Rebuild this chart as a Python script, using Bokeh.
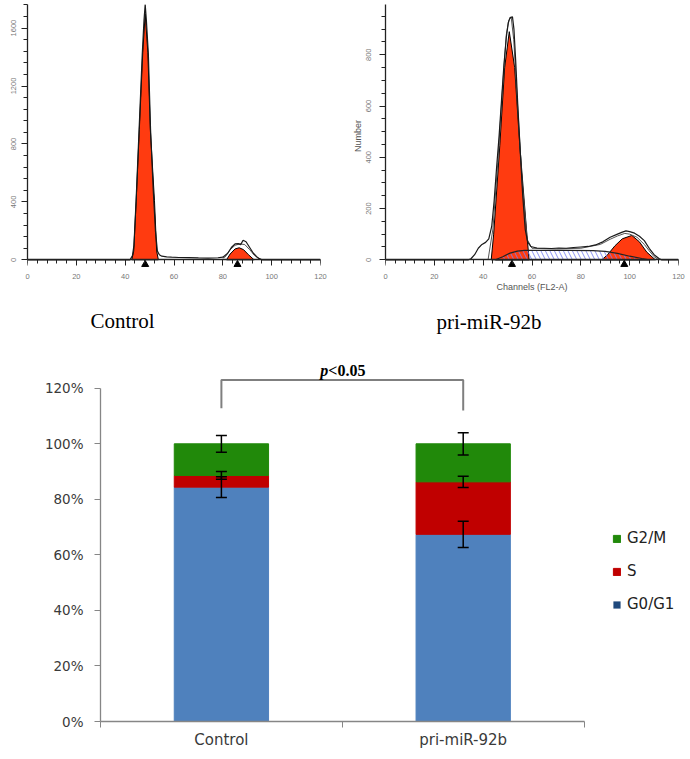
from bokeh.plotting import figure
from bokeh.layouts import column, row
from bokeh.models import (Range1d, SingleIntervalTicker, FixedTicker, NumeralTickFormatter,
                          Whisker, TeeHead, ColumnDataSource, Legend, LegendItem, Title,
                          LinearAxis, CustomJSTickFormatter)
from bokeh.core.properties import value
from bokeh.embed import file_html
from bokeh.resources import INLINE

# ------------------------------------------------------------------ data
# Control histogram (channel, number)
ctrl_raw_ch = [0, 42, 43, 43.6, 44.5, 45.7, 47.0, 47.7, 48.2, 48.7, 49.5, 50.4, 51.5, 52.4, 53.2,
               54, 55, 57, 59, 62, 66, 70, 74, 78, 80, 82, 83.5, 85, 86.3, 87.3, 88.3, 89.5,
               91, 92.5, 94, 95, 96, 120]
ctrl_raw_n = [0, 0, 30, 100, 420, 900, 1420, 1650, 1765, 1650, 1420, 900, 480, 200, 60,
              35, 25, 20, 18, 16, 15, 13, 12, 14, 18, 45, 85, 110, 112, 105, 135, 125,
              85, 45, 20, 8, 0, 0]
ctrl_fit_ch = [80, 81, 83, 85, 87, 89, 91, 93, 95, 96]
ctrl_fit_n = [12, 20, 70, 100, 110, 105, 70, 30, 5, 0]
ctrl_g1_ch = [42.7, 43.5, 44.5, 45.8, 47.2, 48.2, 49.3, 50.3, 52.0, 52.9, 53.6]
ctrl_g1_n = [0, 60, 400, 900, 1430, 1700, 1430, 900, 410, 60, 0]
ctrl_g2_ch = [81.5, 83, 85, 86.7, 88.5, 90.5, 92.8]
ctrl_g2_n = [0, 40, 75, 83, 70, 35, 0]
ctrl_modes = [48.2, 86.0]

# pri-miR-92b histogram
pri_raw_ch = [0, 34, 35, 36.5, 38, 39.5, 41, 42.3, 43.5, 44.5, 45.5, 46.5, 47.5, 48.5, 49.5,
              50.3, 51, 52, 52.6, 53.3, 54.2, 55.2, 56.2, 57.2, 58.2, 59.5, 62, 65, 68, 71,
              74, 77, 80, 83, 86, 89, 92, 95, 97, 98.5, 100, 102, 104, 106, 108, 110, 112,
              113, 120]
pri_raw_n = [0, 0, 4, 20, 45, 60, 68, 82, 130, 230, 360, 480, 620, 760, 870,
             925, 945, 948, 900, 780, 600, 420, 250, 120, 70, 52, 46, 45, 44, 46,
             45, 48, 50, 52, 58, 70, 88, 100, 108, 113, 110, 104, 92, 75, 45, 20, 5,
             0, 0]
pri_fit_ch = [42, 44, 46, 48, 49.5, 50.5, 51.5, 52.5, 54, 56, 58, 60, 70, 80, 88, 92, 95,
              98, 100, 103, 106, 108, 110, 112]
pri_fit_n = [0, 120, 380, 680, 880, 935, 945, 860, 620, 300, 80, 45, 42, 45, 60, 80, 93,
             103, 100, 88, 60, 35, 12, 0]
pri_g1_ch = [43.3, 44.3, 46.8, 48.8, 50.7, 52.9, 55.0, 57.9, 58.8]
pri_g1_n = [0, 100, 445, 750, 890, 750, 445, 100, 0]
pri_g2_ch = [88.6, 91, 94, 97, 100.9, 104, 107, 110.5]
pri_g2_n = [0, 20, 55, 82, 95, 70, 30, 0]
pri_s_ch = [45, 48, 51, 54, 57, 65, 75, 85, 90, 95, 100, 105, 108]
pri_s_n = [0, 12, 26, 34, 37, 37, 37, 36, 33, 25, 14, 5, 0]
pri_modes = [51.8, 97.8]

# Cell-cycle distribution (fractions)
categories = ["Control", "pri-miR-92b"]
phases = ["G0/G1", "S", "G2/M"]
g0g1 = [0.844, 0.674]
s_phase = [0.042, 0.189]
g2m = [0.114, 0.137]
g0g1_err = [0.037, 0.047]
s_err = [0.014, 0.020]
g2m_err = [0.030, 0.040]
y_ticks = [0, 0.2, 0.4, 0.6, 0.8, 1.0, 1.2]
p_label = "<0.05"

# ------------------------------------------------------------------ styles
RED = "#FF3B10"
C_G1 = "#4F81BD"
C_S = "#C00000"
C_G2 = "#21890A"
C_G1_LEG = "#1F497D"
AX = "#222222"
TOP_H = 358


def make_hist(width, bl, br, y_end, px_per_count, y_int, y_minor, title_text, title_offset,
              title_standoff, ylabel="", xlabel=""):
    below_px = 7.7
    y_start = -below_px / px_per_count
    p = figure(width=width, height=TOP_H, output_backend="svg", toolbar_location=None,
               x_range=Range1d(0, 120), y_range=Range1d(y_start, y_end),
               min_border_left=bl, min_border_right=br, min_border_top=4,
               min_border_bottom=TOP_H - 267)
    p.outline_line_color = None
    p.grid.visible = False
    # axis line + ticks sitting on the zero baseline
    xa = p.xaxis[0]
    xa.fixed_location = 0
    xa.bounds = (0, 120)
    xa.ticker = SingleIntervalTicker(interval=20, num_minor_ticks=5)
    xa.formatter = CustomJSTickFormatter(code="return ''")
    # tick labels + axis label under the frame
    xl = LinearAxis(ticker=SingleIntervalTicker(interval=20, num_minor_ticks=0),
                    bounds=(0, 120), axis_line_color=None, major_tick_line_color=None,
                    minor_tick_line_color=None, major_tick_out=0, minor_tick_out=0,
                    major_tick_in=0, minor_tick_in=0, major_label_standoff=6)
    p.add_layout(xl, "below")
    ya = p.yaxis[0]
    ya.bounds = (0, y_end)
    ya.ticker = SingleIntervalTicker(interval=y_int, num_minor_ticks=y_minor)
    ya.major_label_orientation = "vertical"
    for a in (xa, ya):
        a.axis_line_color = AX
        a.axis_line_width = 1.3
        a.major_tick_line_color = AX
        a.minor_tick_line_color = AX
        a.major_tick_in = 0
        a.minor_tick_in = 0
        a.major_tick_out = 6
        a.minor_tick_out = 4
    for a in (xl, ya):
        a.major_label_text_font = "Liberation Sans"
        a.major_label_text_font_size = "7.5px"
        a.major_label_text_color = "#777777"
        a.axis_label_text_font = "Liberation Sans"
        a.axis_label_text_font_size = "9px"
        a.axis_label_text_font_style = "normal"
        a.axis_label_text_color = "#555555"
    ya.major_label_standoff = 5
    if xlabel:
        xl.axis_label = xlabel
        xl.axis_label_standoff = 0
    if ylabel:
        ya.axis_label = ylabel
        ya.axis_label_standoff = 1
        ya.major_label_standoff = 8
    p.add_layout(Title(text=title_text, align="left", offset=title_offset,
                       text_font="Liberation Serif", text_font_size="21px",
                       text_font_style="normal", text_color="black",
                       standoff=title_standoff), "below")
    return p


def draw_hist(p, raw_ch, raw_n, fit_ch, fit_n, g1_ch, g1_n, g2_ch, g2_n, modes, mark_y,
              s_ch=None, s_n=None):
    p.patch(g1_ch, g1_n, fill_color=RED, line_color="black", line_width=1)
    p.patch(g2_ch, g2_n, fill_color=RED, line_color="black", line_width=1)
    if s_ch is not None:
        p.patch(s_ch, s_n, fill_alpha=0, hatch_pattern="\\", hatch_color="#7880F0",
                hatch_scale=9, hatch_weight=1, hatch_alpha=0.85,
                line_color="#222222", line_width=1.2)
    p.line(fit_ch, fit_n, line_color="#555555", line_width=1)
    p.line(raw_ch, raw_n, line_color="#1a1a1a", line_width=1.2)
    p.scatter(modes, [mark_y] * len(modes), marker="triangle", size=7,
              fill_color="black", line_color="black")


p1 = make_hist(345, 27, 25, 1763, 0.1448, 400, 5, "Control", 63, 51)
draw_hist(p1, ctrl_raw_ch, ctrl_raw_n, ctrl_fit_ch, ctrl_fit_n, ctrl_g1_ch, ctrl_g1_n,
          ctrl_g2_ch, ctrl_g2_n, ctrl_modes, -32)

p2 = make_hist(345, 40, 12, 996, 0.2563, 200, 4, "pri-miR-92b", 51, 27,
               ylabel="Number", xlabel="Channels (FL2-A)")
draw_hist(p2, pri_raw_ch, pri_raw_n, pri_fit_ch, pri_fit_n, pri_g1_ch, pri_g1_n,
          pri_g2_ch, pri_g2_n, pri_modes, -18, pri_s_ch, pri_s_n)

# ------------------------------------------------------------------ bar chart
xpos = [i + 0.5 for i in range(len(categories))]
src = ColumnDataSource(dict(x=xpos, g0g1=g0g1, s=s_phase, g2m=g2m))

BAR_H = 759 - TOP_H
p3 = figure(width=690, height=BAR_H, output_backend="svg", toolbar_location=None,
            x_range=Range1d(0, 2.44), y_range=Range1d(0, 1.30),
            min_border_left=100, min_border_right=0, min_border_top=360 - TOP_H,
            min_border_bottom=38)
p3.outline_line_color = None
p3.grid.visible = False

r_bars = p3.vbar_stack(["g0g1", "s", "g2m"], x="x", width=0.39,
                       color=[C_G1, C_S, C_G2], source=src)
# zero-width companion glyph that only supplies the darker G0/G1 legend swatch
r_leg_g1 = p3.vbar(x=xpos, top=g0g1, width=0, fill_color=C_G1_LEG, line_color=None)

tops1 = g0g1
tops2 = [a + b for a, b in zip(g0g1, s_phase)]
tops3 = [a + b + c for a, b, c in zip(g0g1, s_phase, g2m)]
wb, wu, wl = [], [], []
for tops, errs in ((tops1, g0g1_err), (tops2, s_err), (tops3, g2m_err)):
    for xx, t, e in zip(xpos, tops, errs):
        wb.append(xx)
        wu.append(t + e)
        wl.append(t - e)
wsrc = ColumnDataSource(dict(base=wb, upper=wu, lower=wl))
whisk = Whisker(base="base", upper="upper", lower="lower", source=wsrc, level="overlay",
                line_color="black", line_width=1.5,
                upper_head=TeeHead(size=11, line_width=1.5, line_color="black"),
                lower_head=TeeHead(size=11, line_width=1.5, line_color="black"))
p3.add_layout(whisk)

# significance bracket
br_y = 1.230
p3.line([xpos[0], xpos[0], xpos[1], xpos[1]], [1.128, br_y, br_y, 1.120],
        line_color="#7f7f7f", line_width=2)
mid = (xpos[0] + xpos[1]) / 2
p3.text([mid], [1.234], text=["p"], text_font=value("Liberation Serif"),
        text_font_style="bold italic", text_font_size="16px", text_align="right",
        text_baseline="bottom", x_offset=-14, text_color="black")
p3.text([mid], [1.234], text=[p_label], text_font=value("Liberation Serif"),
        text_font_style="bold", text_font_size="16px", text_align="left",
        text_baseline="bottom", x_offset=-14, text_color="black")

ya = p3.yaxis[0]
ya.ticker = FixedTicker(ticks=y_ticks)
ya.bounds = (0, 1.2)
ya.formatter = NumeralTickFormatter(format="0%")
xa = p3.xaxis[0]
xa.bounds = (0, len(categories))
xa.ticker = FixedTicker(ticks=xpos, minor_ticks=list(range(len(categories) + 1)))
xa.major_label_overrides = {xx: c for xx, c in zip(xpos, categories)}
for a in (xa, ya):
    a.axis_line_color = "#868686"
    a.axis_line_width = 1.3
    a.major_tick_line_color = "#868686"
    a.minor_tick_line_color = "#868686"
    a.major_tick_in = 0
    a.minor_tick_in = 0
    a.major_label_text_font = "DejaVu Sans"
    a.major_label_text_color = "#3a3a3a"
ya.major_tick_out = 6
ya.minor_tick_out = 0
ya.major_label_text_font_size = "13.5px"
ya.major_label_standoff = 11
xa.major_tick_out = 0
xa.minor_tick_out = 6
xa.major_label_text_font_size = "15px"
xa.major_label_standoff = 3

legend = Legend(items=[LegendItem(label=phases[2], renderers=[r_bars[2]]),
                       LegendItem(label=phases[1], renderers=[r_bars[1]]),
                       LegendItem(label=phases[0], renderers=[r_leg_g1])],
                location=(512, 108), padding=0, margin=0, spacing=15,
                glyph_width=9, glyph_height=9, label_height=14, label_standoff=6,
                label_text_font="DejaVu Sans", label_text_font_size="15px",
                label_text_color="#222222", border_line_color=None,
                background_fill_alpha=0)
p3.add_layout(legend, "center")

layout = column(row(p1, p2), p3)
open("out.html", "w").write(file_html(layout, INLINE))
